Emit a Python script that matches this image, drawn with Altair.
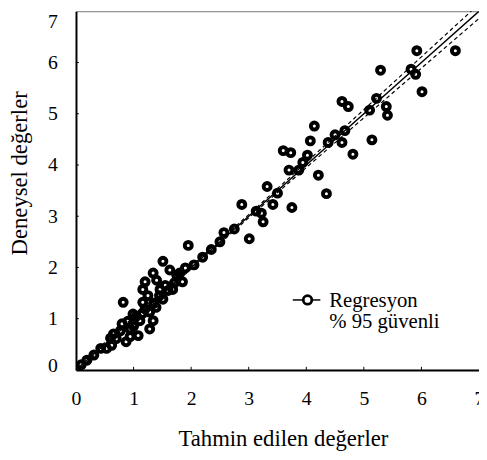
import altair as alt
import pandas as pd

# observed points: predicted (x) vs experimental (y)
pred = [0.09, 0.19, 0.31, 0.43, 0.53, 0.62, 0.70, 0.77, 0.87, 0.94, 0.94, 0.99, 1.08, 1.11,
        1.16, 1.20, 1.28, 1.28, 1.34, 1.39, 1.51, 1.46, 1.16, 1.20, 1.34, 1.63, 1.80, 1.90,
        1.71, 1.68, 1.85, 0.82, 1.51, 0.60, 0.80, 1.05, 1.45, 1.60,
        0.65, 0.90, 1.00, 1.15, 1.25, 1.35, 1.55, 1.40, 1.75,
        1.95, 2.05, 2.20, 2.35, 2.50, 2.57, 2.75, 2.88, 3.01, 3.13, 3.25, 3.22, 3.32, 3.42,
        3.50, 3.75, 3.60, 3.73, 3.70, 3.87, 3.94, 4.02, 4.07, 4.14, 4.21, 4.35, 4.38, 4.50,
        4.62, 4.67, 4.81, 4.62, 4.73, 5.10, 5.14, 5.22, 5.29, 5.39, 5.41, 5.82, 5.90, 5.92,
        6.01, 6.59]
expt = [0.10, 0.19, 0.29, 0.42, 0.42, 0.48, 0.61, 0.76, 0.55, 0.80, 0.65, 1.09, 0.67, 0.96,
        1.32, 1.19, 1.13, 0.80, 0.96, 1.22, 1.38, 1.57, 1.57, 1.72, 1.89, 1.95, 1.89, 1.99,
        1.70, 1.57, 1.72, 1.32, 2.12, 0.62, 0.90, 1.05, 1.45, 1.55,
        0.70, 0.95, 0.85, 1.10, 1.45, 1.30, 1.65, 1.75, 1.85,
        2.43, 2.05, 2.20, 2.35, 2.50, 2.68, 2.75, 3.23, 2.56, 3.10, 2.89, 3.06, 3.58, 3.23,
        3.45, 3.17, 4.28, 4.24, 3.90, 3.90, 4.05, 4.19, 4.47, 4.76, 3.80, 3.44, 4.44, 4.59,
        4.44, 4.67, 4.21, 5.24, 5.14, 5.07, 4.49, 5.30, 5.85, 5.14, 4.97, 5.87, 5.77, 6.23,
        5.43, 6.23]

# regression line and 95% confidence limits
line_x = [0, 1, 2, 3, 4, 5, 6, 7]
line_y = [0, 1, 2, 3, 4, 5, 6, 7]
ci_upper = [0.04, 1.03, 2.03, 3.03, 4.05, 5.08, 6.11, 7.14]
ci_lower = [-0.04, 0.97, 1.97, 2.97, 3.95, 4.92, 5.89, 6.86]

ticks = [1, 2, 3, 4, 5, 6]
axis_ticks = [0, 1, 2, 3, 4, 5, 6, 7]
legend_labels = ["Regresyon", "% 95 güvenli"]

FONT = "Liberation Serif"

pts = pd.DataFrame({"x": pred, "y": expt})
reg = pd.DataFrame({"x": line_x, "y": line_y, "up": ci_upper, "lo": ci_lower})
tk = pd.DataFrame({"t": ticks})

xs = alt.Scale(domain=[0, 7], nice=False)
ys = alt.Scale(domain=[0, 7], nice=False)

x_axis = alt.Axis(values=axis_ticks, format="d", ticks=False, grid=False, domainColor="black",
                  domainWidth=2, labelFont=FONT, labelFontSize=20, labelColor="black",
                  labelPadding=19, labelFlush=False, title="Tahmin edilen değerler", titleFont=FONT,
                  titleFontSize=23, titleFontWeight="normal", titleColor="black",
                  titleX=210, titleY=70, titleBaseline="middle", titleAlign="center")
y_axis = alt.Axis(values=axis_ticks, format="d", ticks=False, grid=False, domainColor="black",
                  domainWidth=2, labelFont=FONT, labelFontSize=20, labelColor="black",
                  labelPadding=19, labelFlush=False,
                  labelBaseline={"condition": {"test": "datum.value == 7", "value": "top"},
                                 "value": "middle"},
                  labelOffset={"condition": {"test": "datum.value == 0", "value": -4},
                               "value": 0},
                  title="Deneysel değerler", titleFont=FONT,
                  titleFontSize=23, titleFontWeight="normal", titleColor="black",
                  titleX=-57, titleY=164, titleAngle=270, titleBaseline="middle",
                  titleAlign="center")

base_pts = alt.Chart(pts).mark_point(
    shape="circle", filled=False, color="black", size=50, strokeWidth=4, opacity=1, clip=True
).encode(x=alt.X("x:Q", scale=xs, axis=x_axis), y=alt.Y("y:Q", scale=ys, axis=y_axis))

reg_line = alt.Chart(reg).mark_line(color="black", strokeWidth=1.5, clip=True).encode(
    x=alt.X("x:Q", scale=xs), y=alt.Y("y:Q", scale=ys))
up_line = alt.Chart(reg).mark_line(color="black", strokeWidth=1.2, strokeDash=[4, 3], clip=True).encode(
    x=alt.X("x:Q", scale=xs), y=alt.Y("up:Q", scale=ys))
lo_line = alt.Chart(reg).mark_line(color="black", strokeWidth=1.2, strokeDash=[4, 3], clip=True).encode(
    x=alt.X("x:Q", scale=xs), y=alt.Y("lo:Q", scale=ys))

xticks = alt.Chart(tk).mark_rule(color="black", strokeWidth=1).encode(
    x=alt.X("t:Q", scale=xs), y=alt.datum(0, scale=ys), y2=alt.datum(0.06))
yticks = alt.Chart(tk).mark_rule(color="black", strokeWidth=1).encode(
    y=alt.Y("t:Q", scale=ys), x=alt.datum(0, scale=xs), x2=alt.datum(0.05))

leg_df = pd.DataFrame({"label": [legend_labels[0]]})
leg_line = alt.Chart(leg_df).mark_rule(color="black", strokeWidth=1.5).encode(
    x=alt.value(220), x2=alt.value(248), y=alt.value(293))
leg_pt = alt.Chart(leg_df).mark_point(shape="circle", filled=True, fill="white", stroke="black",
                                      size=75, strokeWidth=2.8, opacity=1).encode(
    x=alt.value(235), y=alt.value(293))
leg_t1 = alt.Chart(pd.DataFrame({"label": [legend_labels[0]]})).mark_text(
    font=FONT, fontSize=21, align="left", baseline="middle", color="black").encode(
    x=alt.value(257), y=alt.value(294), text="label:N")
leg_t2 = alt.Chart(pd.DataFrame({"label": [legend_labels[1]]})).mark_text(
    font=FONT, fontSize=21, align="left", baseline="middle", color="black").encode(
    x=alt.value(257), y=alt.value(315), text="label:N")

chart = alt.layer(
    up_line, lo_line, reg_line, base_pts, xticks, yticks, leg_line, leg_pt, leg_t1, leg_t2
).properties(
    width=409, height=364,
    autosize=alt.AutoSizeParams(type="none"),
    padding={"left": 69, "top": 0, "right": 0, "bottom": 80},
    background="white",
).configure_view(stroke="#777777", strokeWidth=1).configure_text(font=FONT)

chart.save("out.html", embed_options={"renderer": "svg", "actions": False})
